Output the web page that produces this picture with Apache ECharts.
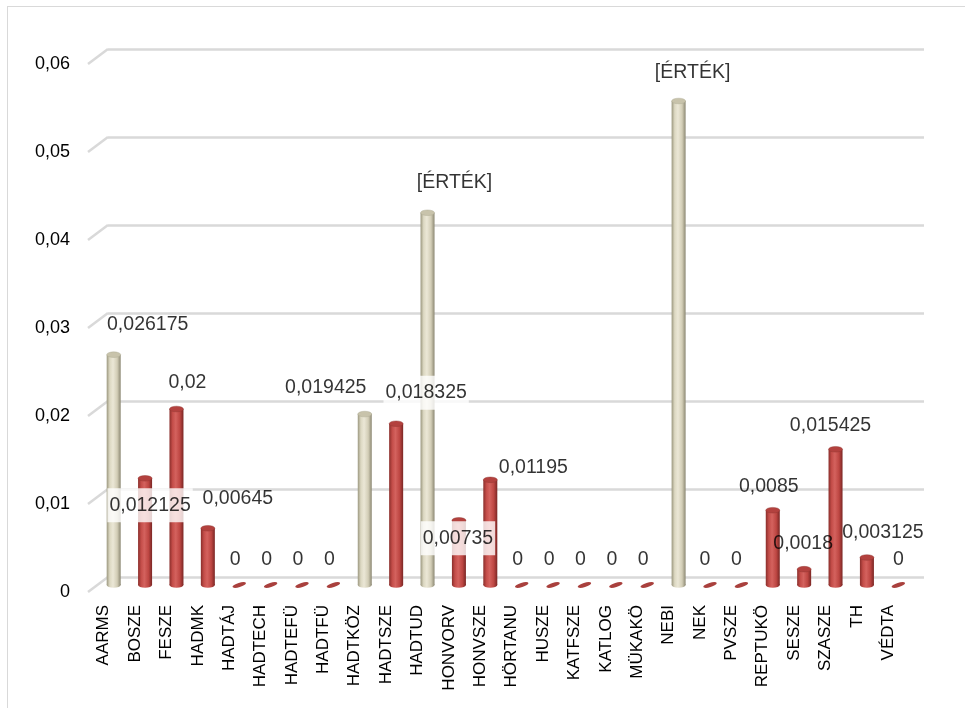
<!DOCTYPE html>
<html><head><meta charset="utf-8">
<script src="https://cdn.jsdelivr.net/npm/echarts@6/dist/echarts.min.js"></script>
<style>
html,body{margin:0;padding:0;background:#fff;overflow:hidden;width:965px;height:708px;}
#frame{position:absolute;left:7px;top:6px;width:1000px;height:1000px;border:1px solid #d9d9d9;box-sizing:border-box;}
#chart{position:absolute;left:0;top:0;width:965px;height:708px;}
</style></head><body>
<div id="frame"></div>
<div id="chart"></div>
<script>
// ---- data ----
const categories = ['AARMS','BOSZE','FESZE','HADMK','HADTÁJ','HADTECH','HADTEFÜ','HADTFÜ','HADTKÖZ','HADTSZE','HADTUD','HONVORV','HONVSZE','HÖRTANU','HUSZE','KATFSZE','KATLOG','MÜKAKÖ','NEBI','NEK','PVSZE','REPTUKÖ','SESZE','SZASZE','TH','VÉDTA'];
const values = [0.026175,0.012125,0.02,0.00645,0,0,0,0,0.019425,0.018325,0.0423,0.00735,0.01195,0,0,0,0,0,0.055,0,0,0.0085,0.0018,0.015425,0.003125,0];
const highlighted = [1,0,0,0,0,0,0,0,1,0,1,0,0,0,0,0,0,0,1,0,0,0,0,0,0,0];
const labelOverrides = [null,null,null,null,null,null,null,null,null,null,'[ÉRTÉK]',null,null,null,null,null,null,null,'[ÉRTÉK]',null,null,null,null,null,null,null];
const yTicks = [0,0.01,0.02,0.03,0.04,0.05,0.06];

// ---- style (label placement nudges, boxed labels) ----
const labelNudges = [[44,-37],[15,20],[21,-33],[40,-37],[6,-32],[6,-32],[6,-32],[6,-32],[-29,-33],[40,-38],[37,-37],[9,11],[53,-19],[6,-32],[6,-32],[6,-32],[6,-32],[6,-32],[24,-35],[5,-32],[5,-32],[6,-31],[9,-33],[5,-31],[26,-32],[10,-32]];
const boxedLabels = [1,9,11];
const DEPTH_X = 10, DEPTH_Y = -7;

const fmt = v => String(v).replace('.', ',');
const G = echarts.graphic;

const redBody = new G.LinearGradient(0,0,1,0,[
  {offset:0,color:'#8a2e2b'},{offset:0.22,color:'#c44d49'},{offset:0.45,color:'#d4625e'},
  {offset:0.75,color:'#bd4642'},{offset:1,color:'#7a2624'}]);
const beigeBody = new G.LinearGradient(0,0,1,0,[
  {offset:0,color:'#9b977f'},{offset:0.22,color:'#dcd8c2'},{offset:0.45,color:'#ebe7d6'},
  {offset:0.75,color:'#d2cdb6'},{offset:1,color:'#8c8873'}]);

function renderCylinder(params, api) {
  const idx = api.value(0), v = api.value(1);
  const top = api.coord([idx, v]);
  const base = api.coord([idx, 0]);
  const cx = top[0] + DEPTH_X;
  const yt = top[1] + DEPTH_Y, yb = base[1] + DEPTH_Y;
  const r = 7;
  const beige = highlighted[idx] === 1;
  if (v === 0) {
    return {type:'circle', shape:{cx:0, cy:0, r:r}, x:cx, y:yb, scaleY:0.3, rotation:0.3,
      style:{fill:'#a9403d'}};
  }
  return {type:'group', children:[
    {type:'circle', shape:{cx:0, cy:0, r:r}, x:cx, y:yb, scaleY:0.4,
      style:{fill: beige ? beigeBody : redBody}},
    {type:'rect', shape:{x:cx - r, y:yt, width:2*r, height:yb - yt},
      style:{fill: beige ? beigeBody : redBody}},
    {type:'circle', shape:{cx:0, cy:0, r:r}, x:cx, y:yt, scaleY:0.4,
      style:{fill: beige ? '#c8c3ab' : '#b3413e', stroke: beige ? '#a9a58f' : '#8f3431', lineWidth:0.6}}
  ]};
}

function renderConnector(params, api) {
  const p = api.coord([0, api.value(1)]);
  return {type:'line', shape:{x1:p[0] - 20, y1:p[1] + 15, x2:p[0], y2:p[1]},
    style:{stroke:'#d9d9d9', lineWidth:2.5}};
}

const chart = echarts.init(document.getElementById('chart'), null, {renderer:'canvas'});
chart.setOption({
  animation:false,
  backgroundColor:'transparent',
  grid:[
    {left:88, right:61, top:64, bottom:116},
    {left:108, right:41, top:49, bottom:131}
  ],
  xAxis:[
    {type:'category', data:categories, gridIndex:0,
      axisLine:{show:false}, axisTick:{show:false},
      axisLabel:{interval:0, rotate:90, fontSize:17, color:'#000', margin:13, fontFamily:'Liberation Sans, Arial, sans-serif'}},
    {type:'value', gridIndex:1, min:0, max:1, show:false}
  ],
  yAxis:[
    {type:'value', gridIndex:0, min:0, max:0.06, interval:0.01,
      axisLine:{show:false}, axisTick:{show:false}, splitLine:{show:false},
      axisLabel:{fontSize:18, color:'#000', margin:18, fontFamily:'Liberation Sans, Arial, sans-serif',
        formatter: v => v === 0 ? '0' : v.toFixed(2).replace('.', ',')}},
    {type:'value', gridIndex:1, min:0, max:0.06, interval:0.01,
      axisLine:{show:false}, axisTick:{show:false}, axisLabel:{show:false},
      splitLine:{show:true, lineStyle:{color:'#d9d9d9', width:2.5}}}
  ],
  series:[
    {type:'custom', xAxisIndex:1, yAxisIndex:1, z:1, silent:true,
      data: yTicks.map(t => [0, t]), renderItem: renderConnector},
    {type:'custom', xAxisIndex:0, yAxisIndex:0, z:2, silent:true,
      data: values.map((v, i) => [i, v]), renderItem: renderCylinder},
    {type:'scatter', xAxisIndex:0, yAxisIndex:0, z:5, silent:true,
      symbolSize:1, itemStyle:{color:'rgba(0,0,0,0)'},
      data: values.map((v, i) => ({
        value:[i, v],
        label:{
          show:true, position:'inside', offset:labelNudges[i],
          formatter: labelOverrides[i] || fmt(v),
          fontSize:19.5, color:'#000', fontFamily:'Liberation Sans, Arial, sans-serif',
          backgroundColor: boxedLabels.includes(i) ? '#ffffff' : 'transparent',
          padding: boxedLabels.includes(i) ? [7,2,7,2] : 0
        }
      }))}
  ]
});
</script>
</body></html>
